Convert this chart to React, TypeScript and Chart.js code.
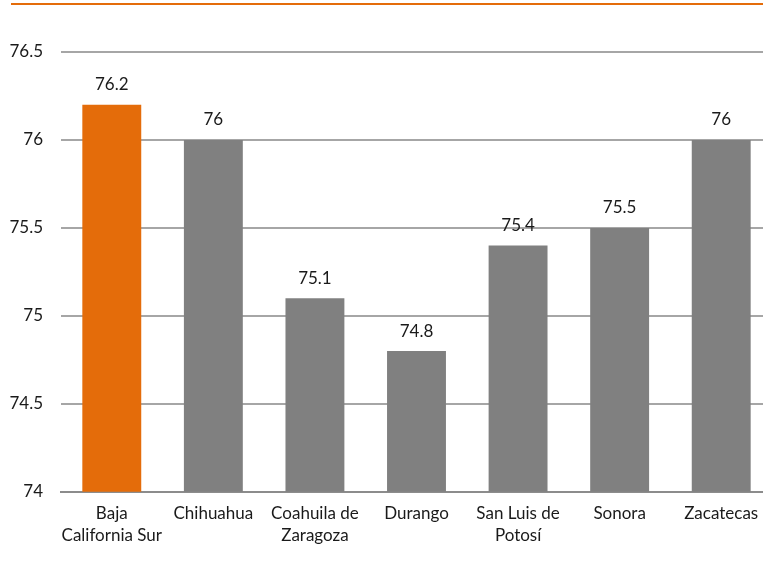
import React, { useEffect, useRef } from "react";
import { Chart, registerables } from "chart.js";

Chart.register(...registerables);

const categories: (string | string[])[] = [
  ["Baja", "California Sur"],
  "Chihuahua",
  ["Coahuila de", "Zaragoza"],
  "Durango",
  ["San Luis de", "Potosí"],
  "Sonora",
  "Zacatecas",
];
const values = [76.2, 76, 75.1, 74.8, 75.4, 75.5, 76];
const barColors = ["#E46C0A", "#808080", "#808080", "#808080", "#808080", "#808080", "#808080"];
const yMin = 74;
const yMax = 76.5;
const yStep = 0.5;

const FONT = "Lato, 'Open Sans', sans-serif";

const valueLabels = {
  id: "valueLabels",
  afterDatasetsDraw(chart: any) {
    const ctx = chart.ctx;
    const meta = chart.getDatasetMeta(0);
    ctx.save();
    ctx.font = `17px ${FONT}`;
    ctx.fillStyle = "#1a1a1a";
    ctx.textAlign = "center";
    ctx.textBaseline = "middle";
    meta.data.forEach((bar: any, i: number) => {
      ctx.fillText(String(values[i]), bar.x, bar.y - 20);
    });
    ctx.restore();
  },
};

export default function App() {
  const ref = useRef<HTMLCanvasElement | null>(null);
  useEffect(() => {
    if (!ref.current) return;
    const chart = new Chart(ref.current, {
      type: "bar",
      data: {
        labels: categories,
        datasets: [
          {
            data: values,
            backgroundColor: barColors,
            barPercentage: 0.58,
            categoryPercentage: 1,
          },
        ],
      },
      options: {
        animation: false,
        responsive: false,
        maintainAspectRatio: false,
        layout: { padding: { top: 52, left: 0, right: 0, bottom: 10 } },
        plugins: { legend: { display: false }, tooltip: { enabled: false } },
        scales: {
          x: {
            grid: { display: false, drawTicks: false },
            border: { display: true, color: "#8c8c8c", width: 2 },
            ticks: {
              color: "#1a1a1a",
              font: { family: FONT, size: 17, lineHeight: 1.3 },
              padding: 11,
              maxRotation: 0,
              autoSkip: false,
            },
          },
          y: {
            min: yMin,
            max: yMax,
            grid: { color: "#a6a6a6", lineWidth: 2, drawTicks: false },
            border: { display: false },
            ticks: {
              stepSize: yStep,
              color: "#1a1a1a",
              font: { family: FONT, size: 17 },
              padding: 18,
              callback: (v: any) => String(Number(v)),
            },
            afterFit(scale: any) {
              scale.width = 61;
            },
          },
        },
      },
      plugins: [valueLabels],
    });
    return () => chart.destroy();
  }, []);
  return (
    <div
      style={{
        position: "fixed",
        left: 0,
        top: 0,
        width: 763,
        height: 568,
        overflow: "hidden",
        background: "#fff",
      }}
    >
      <div
        style={{
          position: "absolute",
          left: 11,
          top: 3,
          width: 752,
          height: 2,
          background: "#E46C0A",
        }}
      />
      <canvas ref={ref} width={772} height={568} style={{ display: "block" }} />
    </div>
  );
}
